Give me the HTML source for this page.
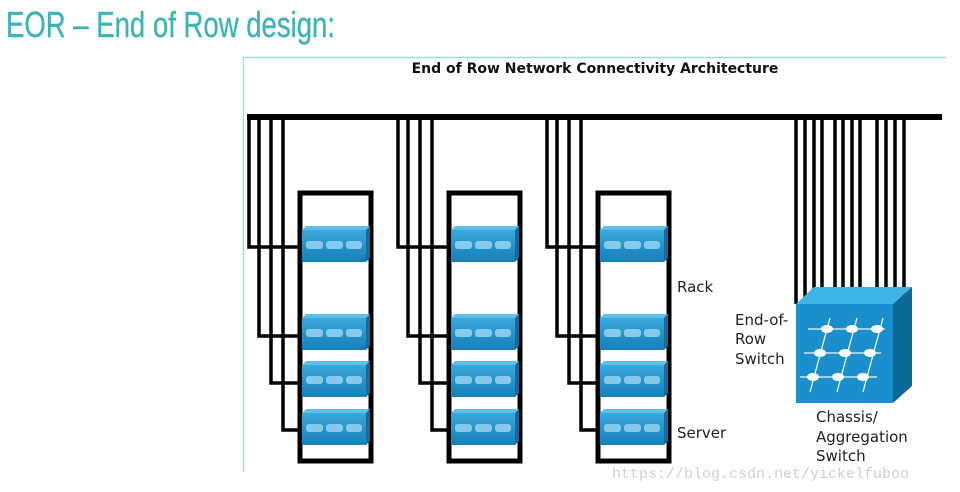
<!DOCTYPE html>
<html><head><meta charset="utf-8"><style>
html,body{margin:0;padding:0;background:#fff;width:960px;height:492px;overflow:hidden}
</style></head><body>
<svg width="960" height="492" viewBox="0 0 960 492" xmlns="http://www.w3.org/2000/svg">
<defs>
<linearGradient id="sw" x1="0" y1="0" x2="0" y2="1"><stop offset="0" stop-color="#3aa8dc"/><stop offset="1" stop-color="#1580b8"/></linearGradient>
<g id="srv">
<polygon points="0,4 4,0 68,0 64,4" fill="#5cc0ea"/>
<polygon points="64,4 68,0 68,32 64,36" fill="#0f6e9e"/>
<rect x="0" y="4" width="64" height="32" fill="url(#sw)"/>
<g fill="#8fd0ef" opacity="0.9"><rect x="4" y="15" width="17" height="8" rx="3"/><rect x="24" y="15" width="17" height="8" rx="3"/><rect x="44" y="15" width="16" height="8" rx="3"/></g>
</g>
<g id="rack">
<rect x="2" y="2" width="71" height="268" fill="none" stroke="#000" stroke-width="5"/>
<use href="#srv" x="4" y="35"/>
<use href="#srv" x="4" y="123"/>
<use href="#srv" x="4" y="170"/>
<use href="#srv" x="4" y="218"/>
</g>
<g id="wires" fill="none" stroke="#000" stroke-width="3.5">
<polyline points="0,0 0,130 55,130"/>
<polyline points="10,0 10,219 55,219"/>
<polyline points="22,0 22,266 55,266"/>
<polyline points="34,0 34,313 55,313"/>
</g>
</defs>
<text x="6" y="37" font-family="Liberation Sans Narrow, Liberation Sans, sans-serif" font-size="36" fill="#3db6b3" stroke="#3db6b3" stroke-width="0.4" textLength="329" lengthAdjust="spacingAndGlyphs">EOR – End of Row design:</text>
<path d="M243.5,472 L243.5,57.5 L946,57.5" fill="none" stroke="#9fdbe0" stroke-width="1.5"/>
<text x="595" y="73" text-anchor="middle" font-family="DejaVu Sans, sans-serif" font-weight="bold" font-size="14" fill="#111">End of Row Network Connectivity Architecture</text>
<rect x="247" y="114" width="695" height="6" fill="#000"/>
<use href="#wires" x="249" y="117"/>
<use href="#wires" x="398" y="117"/>
<use href="#wires" x="547" y="117"/>
<use href="#rack" x="298" y="191"/>
<use href="#rack" x="447" y="191"/>
<use href="#rack" x="596" y="191"/>
<g stroke="#000" stroke-width="3.5">
<line x1="796" y1="118" x2="796" y2="304"/><line x1="805" y1="118" x2="805" y2="302"/><line x1="814" y1="118" x2="814" y2="300"/><line x1="822" y1="118" x2="822" y2="300"/>
<line x1="835" y1="118" x2="835" y2="304"/><line x1="843" y1="118" x2="843" y2="300"/><line x1="852" y1="118" x2="852" y2="300"/><line x1="860" y1="118" x2="860" y2="300"/>
<line x1="877" y1="118" x2="877" y2="300"/><line x1="886" y1="118" x2="886" y2="300"/><line x1="895" y1="118" x2="895" y2="300"/><line x1="904" y1="118" x2="904" y2="300"/>
</g>
<polygon points="796,304 814,287 912,287 893,304" fill="#3fb5e6"/>
<polygon points="893,304 912,287 912,386 893,403" fill="#0d6a98"/>
<rect x="796" y="304" width="97" height="99" fill="#1a8fcb"/>
<g stroke="#e8f6fc" stroke-width="1.3">
<line x1="808" y1="329" x2="885" y2="329"/><line x1="804" y1="353" x2="881" y2="353"/><line x1="800" y1="377" x2="877" y2="377"/>
<line x1="830" y1="318" x2="810" y2="392"/><line x1="857" y1="318" x2="837" y2="392"/><line x1="883" y1="318" x2="863" y2="392"/>
</g>
<g fill="#fff">
<ellipse cx="827" cy="329" rx="6" ry="4"/><ellipse cx="852" cy="329" rx="6" ry="4"/><ellipse cx="877" cy="329" rx="6" ry="4"/>
<ellipse cx="820" cy="353" rx="6" ry="4"/><ellipse cx="845" cy="353" rx="6" ry="4"/><ellipse cx="870" cy="353" rx="6" ry="4"/>
<ellipse cx="813" cy="377" rx="6" ry="4"/><ellipse cx="838" cy="377" rx="6" ry="4"/><ellipse cx="863" cy="377" rx="6" ry="4"/>
</g>
<g font-family="DejaVu Sans, sans-serif" font-size="15" fill="#222">
<text x="677" y="292">Rack</text>
<text x="677" y="438">Server</text>
<text x="735" y="325">End-of-</text>
<text x="735" y="344">Row</text>
<text x="735" y="364">Switch</text>
<text x="816" y="422">Chassis/</text>
<text x="816" y="442">Aggregation</text>
<text x="816" y="461">Switch</text>
</g>
<text x="612" y="478" font-family="Liberation Mono, monospace" font-size="15" fill="#c8d2d8">https://blog.csdn.net/yickelfuboo</text>
</svg>
</body></html>
